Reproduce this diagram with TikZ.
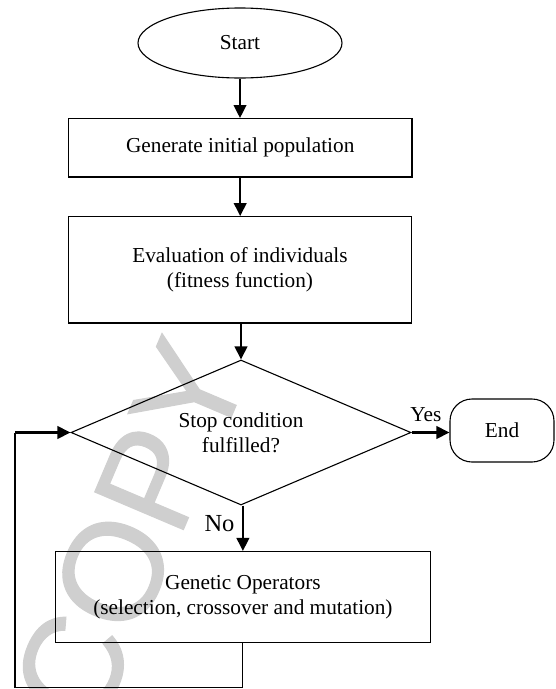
\documentclass[tikz,border=0pt]{standalone}
\usepackage{fontspec}
\setmainfont{Liberation Serif}
\newfontfamily\wmfont[FakeBold=0.8]{Liberation Sans}
\usetikzlibrary{shapes.geometric,arrows.meta}
\begin{document}
\begin{tikzpicture}[x=1pt,y=-1pt,
  txt/.style={font=\fontsize{21.3}{25}\selectfont},
  box/.style={draw,line width=1.1pt,inner sep=0pt,align=center,txt},
  arr/.style={line width=2.4pt,-{Triangle[length=13pt,width=12.5pt]}},
  thinline/.style={line width=1.1pt},
  wmark/.style={font=\wmfont\fontsize{140}{140}\selectfont,text=black!19,rotate=67,inner sep=0pt}]
\useasboundingbox (0,0) rectangle (556,689);
% watermark
\node[wmark] (wm) at (130,532) {COPY};
% nodes
\node[box, ellipse, minimum width=204pt, minimum height=70pt] (start) at (240,43) {Start};
\node[box, rectangle, minimum width=343.6pt, minimum height=58.4pt] (gen) at (240.2,147.8) {Generate initial population};
\node[box, rectangle, minimum width=343pt, minimum height=106.4pt] (eval) at (240,269.8) {Evaluation of individuals\\(fitness function)};
\node[box, diamond, aspect=2.34, minimum width=340pt, minimum height=145pt] (dec) at (241,432.5) {Stop condition\\fulfilled?};
\node[box, rectangle, rounded corners=22pt, minimum width=104pt, minimum height=63pt] (endn) at (502,430.5) {End};
\node[box, rectangle, minimum width=374.3pt, minimum height=91pt] (gop) at (242.9,597) {Genetic Operators\\(selection, crossover and mutation)};
\node[txt, anchor=base, inner sep=0pt] (yes) at (425.8,421.7) {Yes};
\node[font=\fontsize{24.5}{28}\selectfont, anchor=base, inner sep=0pt] (no) at (219.5,531.7) {No};
% connectors
\draw[arr] (start.south) -- (start.south |- gen.north);
\draw[arr] (gen.south) -- (gen.south |- eval.north);
\draw[arr] (dec.north |- eval.south) -- (dec.north);
\draw[arr] (dec.east) -- (dec.east -| endn.west);
\draw[arr] (gop.north |- dec.south) -- (gop.north);
\coordinate (lp2) at (15,687.5);
\coordinate (lp3) at (15,432.5);
\draw[thinline] (gop.south) -- (gop.south |- lp2) -- (lp2) -- (lp3);
\draw[arr] (lp3) -- (dec.west);
\end{tikzpicture}
\end{document}
